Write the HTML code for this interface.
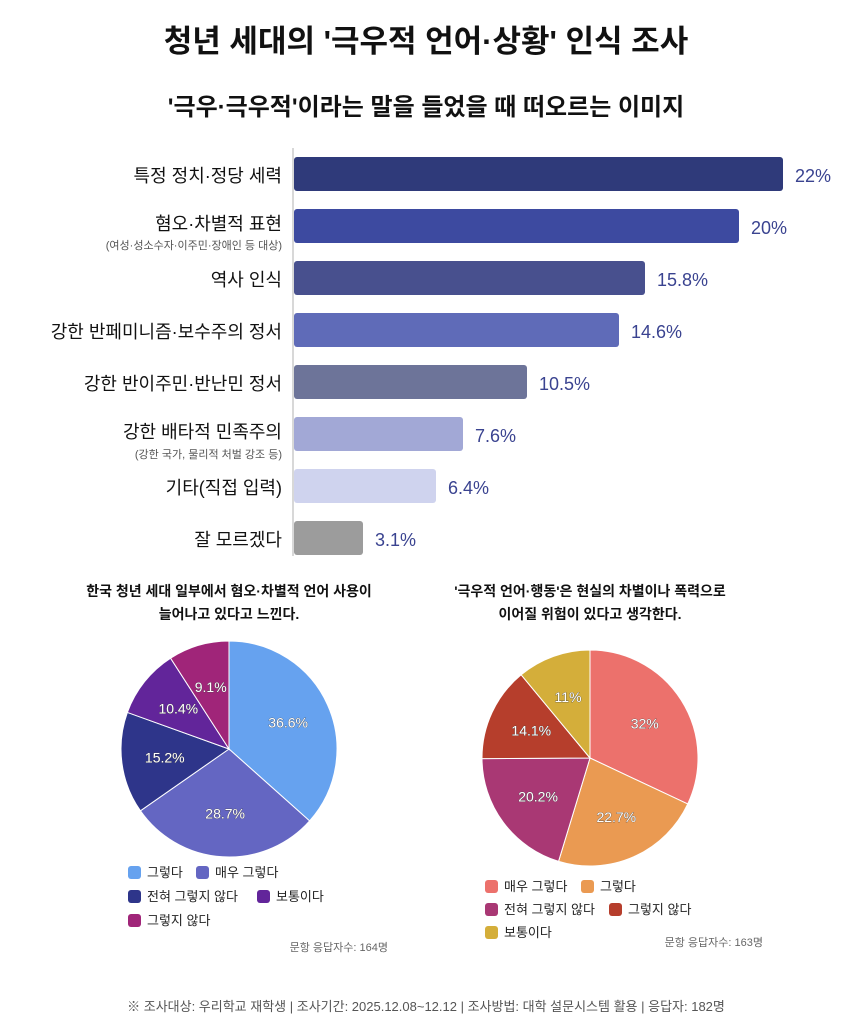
<!DOCTYPE html>
<html><head><meta charset="utf-8"><style>
body{margin:0;background:#fff;font-family:"Liberation Sans","Noto Sans CJK KR",sans-serif;}
svg text{font-family:"Liberation Sans","Noto Sans CJK KR",sans-serif;}
</style></head><body>
<svg width="853" height="1030" viewBox="0 0 853 1030" xmlns="http://www.w3.org/2000/svg">
<text x="426" y="52" text-anchor="middle" font-size="31" font-weight="bold" fill="#111">청년 세대의 '극우적 언어·상황' 인식 조사</text>
<text x="426" y="115" text-anchor="middle" font-size="24" font-weight="bold" fill="#111">'극우·극우적'이라는 말을 들었을 때 떠오르는 이미지</text>
<line x1="293" y1="148" x2="293" y2="556" stroke="#ccc" stroke-width="1.5"/>
<g font-size="18" fill="#111" text-anchor="end">
<rect x="294" y="157" width="489" height="34" rx="3" fill="#2f3a7a"/>
<text x="282" y="182">특정 정치·정당 세력</text>
<text x="795" y="182" text-anchor="start" fill="#3a4390">22%</text>
<rect x="294" y="209" width="445" height="34" rx="3" fill="#3d4aa0"/>
<text x="282" y="230">혐오·차별적 표현</text>
<text x="282" y="249" font-size="11" fill="#555">(여성·성소수자·이주민·장애인 등 대상)</text>
<text x="751" y="234" text-anchor="start" fill="#3a4390">20%</text>
<rect x="294" y="261" width="351" height="34" rx="3" fill="#48508e"/>
<text x="282" y="286">역사 인식</text>
<text x="657" y="286" text-anchor="start" fill="#3a4390">15.8%</text>
<rect x="294" y="313" width="325" height="34" rx="3" fill="#5f6bb8"/>
<text x="282" y="338">강한 반페미니즘·보수주의 정서</text>
<text x="631" y="338" text-anchor="start" fill="#3a4390">14.6%</text>
<rect x="294" y="365" width="233" height="34" rx="3" fill="#6d7499"/>
<text x="282" y="390">강한 반이주민·반난민 정서</text>
<text x="539" y="390" text-anchor="start" fill="#3a4390">10.5%</text>
<rect x="294" y="417" width="169" height="34" rx="3" fill="#a2a8d6"/>
<text x="282" y="438">강한 배타적 민족주의</text>
<text x="282" y="458" font-size="11" fill="#555">(강한 국가, 물리적 처벌 강조 등)</text>
<text x="475" y="442" text-anchor="start" fill="#3a4390">7.6%</text>
<rect x="294" y="469" width="142" height="34" rx="3" fill="#cfd3ee"/>
<text x="282" y="494">기타(직접 입력)</text>
<text x="448" y="494" text-anchor="start" fill="#3a4390">6.4%</text>
<rect x="294" y="521" width="69" height="34" rx="3" fill="#9c9c9c"/>
<text x="282" y="546">잘 모르겠다</text>
<text x="375" y="546" text-anchor="start" fill="#3a4390">3.1%</text>
</g>
<g font-size="14" font-weight="bold" fill="#111" text-anchor="middle">
<text x="229" y="596">한국 청년 세대 일부에서 혐오·차별적 언어 사용이</text>
<text x="229" y="619">늘어나고 있다고 느낀다.</text>
<text x="590" y="596">'극우적 언어·행동'은 현실의 차별이나 폭력으로</text>
<text x="590" y="619">이어질 위험이 있다고 생각한다.</text>
</g>
<g id="pies"></g>
<g font-size="13" fill="#222">
<rect x="128" y="866" width="13" height="13" rx="3" fill="#66a2ef"/><text x="147" y="877">그렇다</text>
<rect x="196" y="866" width="13" height="13" rx="3" fill="#6466c2"/><text x="215" y="877">매우 그렇다</text>
<rect x="128" y="890" width="13" height="13" rx="3" fill="#2e358a"/><text x="147" y="901">전혀 그렇지 않다</text>
<rect x="257" y="890" width="13" height="13" rx="3" fill="#62259a"/><text x="276" y="901">보통이다</text>
<rect x="128" y="914" width="13" height="13" rx="3" fill="#a02579"/><text x="147" y="925">그렇지 않다</text>
<text x="388" y="951" font-size="11" fill="#666" text-anchor="end">문항 응답자수: 164명</text>
<rect x="485" y="880" width="13" height="13" rx="3" fill="#ec716c"/><text x="504" y="891">매우 그렇다</text>
<rect x="581" y="880" width="13" height="13" rx="3" fill="#ea9a52"/><text x="600" y="891">그렇다</text>
<rect x="485" y="903" width="13" height="13" rx="3" fill="#a93874"/><text x="504" y="914">전혀 그렇지 않다</text>
<rect x="609" y="903" width="13" height="13" rx="3" fill="#b63e2c"/><text x="628" y="914">그렇지 않다</text>
<rect x="485" y="926" width="13" height="13" rx="3" fill="#d4ae3a"/><text x="504" y="937">보통이다</text>
<text x="763" y="946" font-size="11" fill="#666" text-anchor="end">문항 응답자수: 163명</text>
</g>
<text x="426" y="1011" text-anchor="middle" font-size="13" fill="#555">※ 조사대상: 우리학교 재학생 | 조사기간: 2025.12.08~12.12 | 조사방법: 대학 설문시스템 활용 | 응답자: 182명</text>
</svg>
<script>
function pie(cx,cy,r,data){
 var g=document.getElementById('pies'),a=0,s='';
 data.forEach(function(d){
  var a0=a,a1=a+d[0]/100*2*Math.PI;a=a1;
  var x0=cx+r*Math.sin(a0),y0=cy-r*Math.cos(a0),x1=cx+r*Math.sin(a1),y1=cy-r*Math.cos(a1);
  var lg=(a1-a0)>Math.PI?1:0;
  s+='<path d="M'+cx+','+cy+' L'+x0+','+y0+' A'+r+','+r+' 0 '+lg+' 1 '+x1+','+y1+' Z" fill="'+d[1]+'" stroke="#fff" stroke-width="1"/>';
  var m=(a0+a1)/2,lr=r*0.6;
  s+='<text x="'+(cx+lr*Math.sin(m))+'" y="'+(cy-lr*Math.cos(m)+5)+'" text-anchor="middle" font-size="14" fill="#fff" stroke="#444" stroke-width="0.6" paint-order="stroke">'+d[0]+'%</text>';
 });
 g.innerHTML+=s;
}
pie(229,749,108,[[36.6,'#66a2ef'],[28.7,'#6466c2'],[15.2,'#2e358a'],[10.4,'#62259a'],[9.1,'#a02579']]);
pie(590,758,108,[[32,'#ec716c'],[22.7,'#ea9a52'],[20.2,'#a93874'],[14.1,'#b63e2c'],[11,'#d4ae3a']]);
</script>
</body></html>
